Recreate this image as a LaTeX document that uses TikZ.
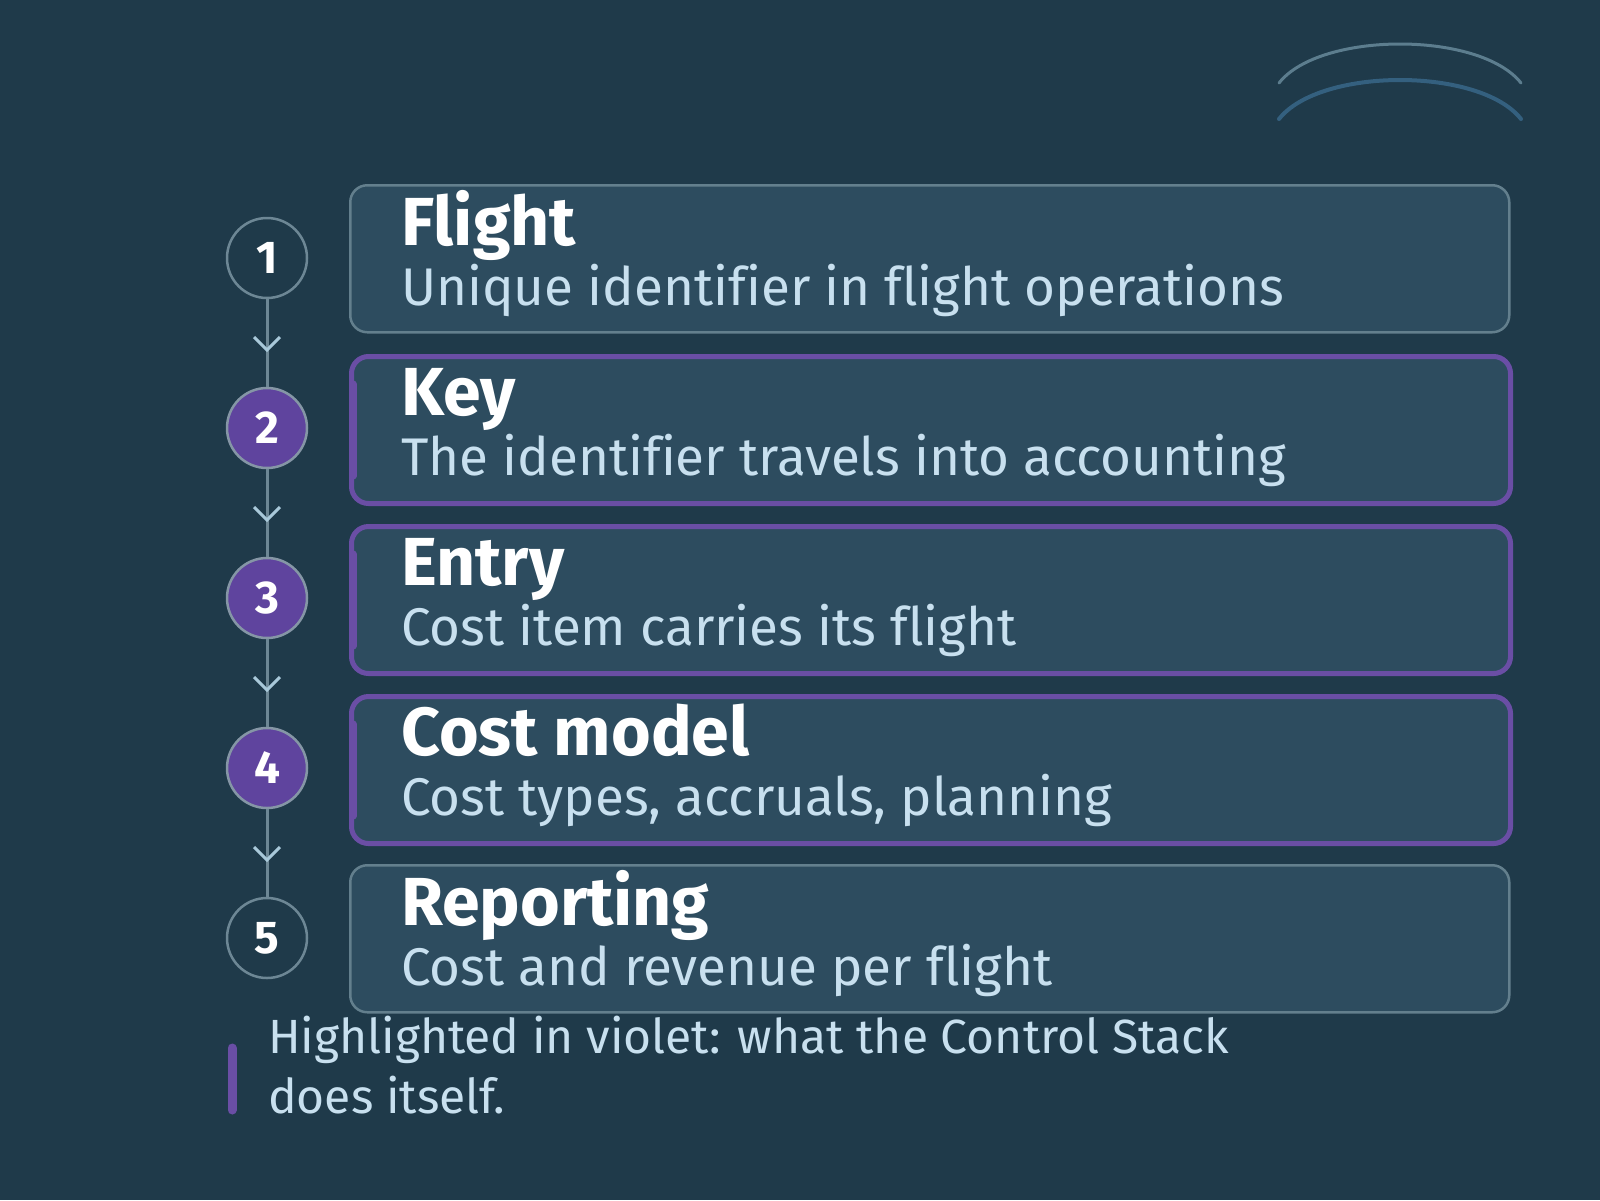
\documentclass[tikz,border=0pt]{standalone}
\usepackage{fontspec}
\setmainfont{Fira Sans}[Ligatures=NoCommon]
\usetikzlibrary{calc}
\definecolor{bgc}{HTML}{1F3A4A}
\definecolor{boxfill}{HTML}{2D4C5F}
\definecolor{graystroke}{HTML}{637F8D}
\definecolor{violetstroke}{HTML}{6A4EA5}
\definecolor{violetfill}{HTML}{5F449E}
\definecolor{circborder}{HTML}{8596A6}
\definecolor{linec}{HTML}{6D8795}
\definecolor{chevc}{HTML}{A9C9DA}
\definecolor{subc}{HTML}{C8E0EF}
\definecolor{arcouter}{HTML}{5C7D8E}
\definecolor{arcinner}{HTML}{34607F}
\tikzset{
  box/.style={draw=graystroke, line width=2.5pt, fill=boxfill, rounded corners=17pt,
    minimum width=1159pt, minimum height=147pt, anchor=north west, inner sep=0pt},
  vbox/.style={box, draw=violetstroke, line width=5pt},
  numc/.style={circle, draw=linec, line width=2.5pt, fill=bgc, minimum size=80pt,
    inner sep=0pt, text=white, font=\fontsize{46}{50}\selectfont\bfseries},
  vnumc/.style={numc, fill=violetfill, draw=circborder},
  ttl/.style={anchor=base west, inner sep=0pt, text=white, font=\fontsize{68}{72}\selectfont\bfseries},
  sub/.style={anchor=base west, inner sep=0pt, text=subc, font=\fontsize{53}{58}\selectfont},
  legtxt/.style={anchor=base west, inner sep=0pt, text=subc, font=\fontsize{48}{52}\selectfont},
  conn/.style={draw=linec, line width=3pt},
  chev/.style={draw=chevc, line width=3pt},
  accent/.style={draw=violetstroke, line width=7pt, line cap=round},
}
\begin{document}
\begin{tikzpicture}[x=1pt,y=-1pt]
\fill[bgc] (0,0) rectangle (1600,1200);
\useasboundingbox (0,0) rectangle (1600,1200);
% decorative arcs
\draw[arcouter, line width=3pt, line cap=round] (1279,83) .. controls (1320,31) and (1480,31) .. (1521,83);
\draw[arcinner, line width=4pt, line cap=round] (1279,119) .. controls (1320,67) and (1480,67) .. (1521,119);
% boxes
\node[box]  (b1) at (349,184) {};
\node[vbox] (b2) at (349,354) {};
\node[vbox] (b3) at (349,524) {};
\node[vbox] (b4) at (349,694) {};
\node[box]  (b5) at (349,864) {};
\foreach \i in {2,3,4}{
  \draw[accent] ($(b\i.north west)+(4,30)$) -- ($(b\i.south west)+(4,-30)$);
}
% texts
\node[ttl] (t1) at (401,245) {Flight};
\node[sub] (s1) at (401,305) {Unique identifier in flight operations};
\node[ttl] (t2) at (401,415) {Key};
\node[sub] (s2) at (401,475) {The identifier travels into accounting};
\node[ttl] (t3) at (401,585) {Entry};
\node[sub] (s3) at (401,645) {Cost item carries its flight};
\node[ttl] (t4) at (401,755) {Cost model};
\node[sub] (s4) at (401,815) {Cost types, accruals, planning};
\node[ttl] (t5) at (401,925) {Reporting};
\node[sub] (s5) at (401,985) {Cost and revenue per flight};
% circles
\node[numc]  (c1) at (267,258) {1};
\node[vnumc] (c2) at (267,428) {2};
\node[vnumc] (c3) at (267,598) {3};
\node[vnumc] (c4) at (267,768) {4};
\node[numc]  (c5) at (267,938) {5};
\foreach \a/\b in {c1/c2,c2/c3,c3/c4,c4/c5}{
  \draw[conn] (\a.south) -- (\b.north);
  \draw[chev] ($(\a.south)!0.58!(\b.north)+(-13,-13)$) -- ($(\a.south)!0.58!(\b.north)$) -- ($(\a.south)!0.58!(\b.north)+(13,-13)$);
}
% legend
\draw[draw=violetstroke, line width=9pt, line cap=round] (232,1048) coordinate (l1) -- (232,1110) coordinate (l2);
\node[legtxt] (lg1) at (268,1053) {Highlighted in violet: what the Control Stack};
\node[legtxt] (lg2) at (268,1113) {does itself.};
\end{tikzpicture}
\end{document}
